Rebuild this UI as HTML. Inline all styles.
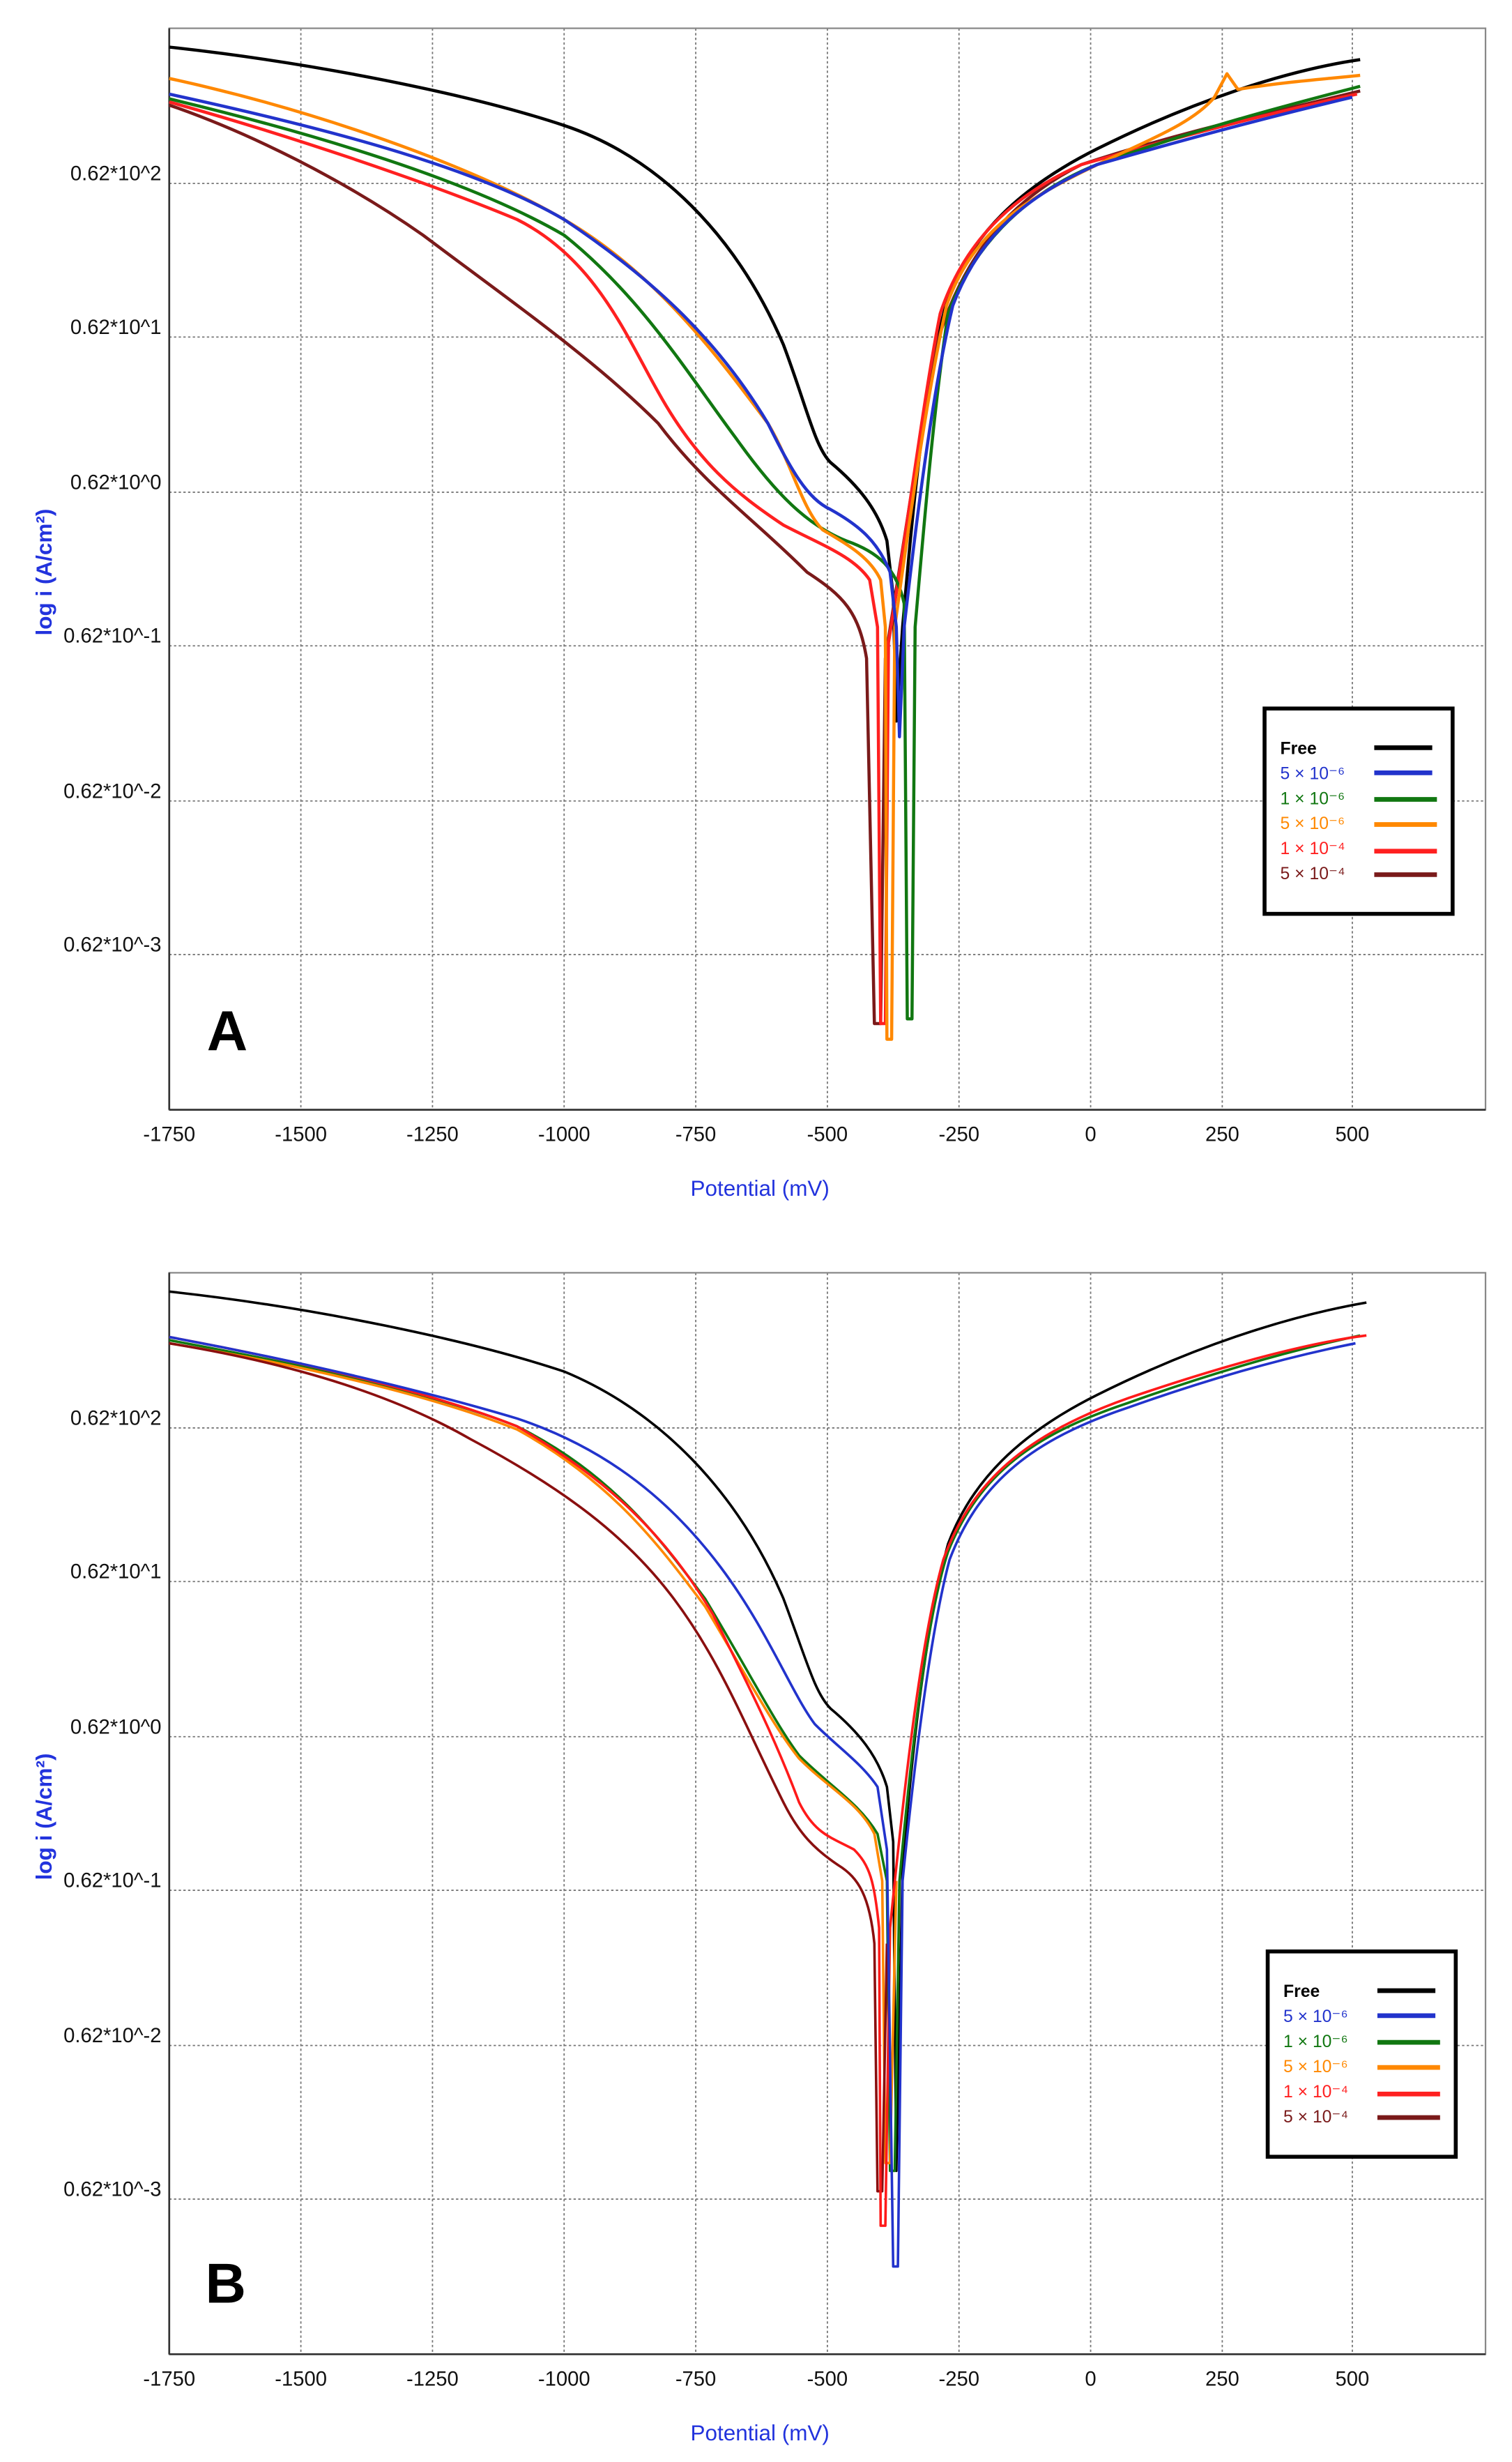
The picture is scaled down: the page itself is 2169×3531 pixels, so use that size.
<!DOCTYPE html>
<html><head><style>
html,body{margin:0;padding:0;background:#fff}
svg{display:block}
text{font-family:"Liberation Sans",sans-serif}
</style></head><body>
<svg width="2169" height="3531" viewBox="0 0 964.9 1570.7" xmlns="http://www.w3.org/2000/svg">
<rect width="964.9" height="1570.7" fill="#fff"/>
<defs>
<g id="grid">
  <g stroke="#777" stroke-width="0.8" stroke-dasharray="1.5,1.5" fill="none">
    <line x1="192" y1="0" x2="192" y2="690"/><line x1="276" y1="0" x2="276" y2="690"/>
    <line x1="360" y1="0" x2="360" y2="690"/><line x1="444" y1="0" x2="444" y2="690"/>
    <line x1="528" y1="0" x2="528" y2="690"/><line x1="612" y1="0" x2="612" y2="690"/>
    <line x1="696" y1="0" x2="696" y2="690"/><line x1="780" y1="0" x2="780" y2="690"/>
    <line x1="863" y1="0" x2="863" y2="690"/>
    <line x1="108" y1="99" x2="948" y2="99"/><line x1="108" y1="197" x2="948" y2="197"/>
    <line x1="108" y1="296" x2="948" y2="296"/><line x1="108" y1="394" x2="948" y2="394"/>
    <line x1="108" y1="493" x2="948" y2="493"/><line x1="108" y1="591" x2="948" y2="591"/>
  </g>
  <rect x="108" y="0" width="840" height="690" fill="none" stroke="#888" stroke-width="1"/>
  <line x1="108" y1="0" x2="108" y2="690" stroke="#333" stroke-width="1.2"/>
  <line x1="108" y1="690" x2="948" y2="690" stroke="#333" stroke-width="1.2"/>
  <g font-size="13" fill="#111" text-anchor="middle">
    <text x="108" y="710">-1750</text><text x="192" y="710">-1500</text><text x="276" y="710">-1250</text>
    <text x="360" y="710">-1000</text><text x="444" y="710">-750</text><text x="528" y="710">-500</text>
    <text x="612" y="710">-250</text><text x="696" y="710">0</text><text x="780" y="710">250</text><text x="863" y="710">500</text>
  </g>
  <g font-size="13" fill="#111" text-anchor="end">
    <text x="103" y="97">0.62*10^2</text><text x="103" y="195">0.62*10^1</text>
    <text x="103" y="294">0.62*10^0</text><text x="103" y="392">0.62*10^-1</text>
    <text x="103" y="491">0.62*10^-2</text><text x="103" y="589">0.62*10^-3</text>
  </g>
  <text x="485" y="745" font-size="14" fill="#2233dd" text-anchor="middle">Potential (mV)</text>
  <text transform="translate(33,347) rotate(-90)" font-size="14" fill="#2233dd" text-anchor="middle" font-weight="bold">log i (A/cm²)</text>
</g>
<g id="leg" font-family="Liberation Serif" font-size="11">
  <rect x="0" y="0" width="120" height="131" fill="#fff" stroke="#000" stroke-width="2.5"/>
  <text x="10" y="29" fill="#000" font-weight="bold">Free</text>
  <text x="10" y="45" fill="#2233cc">5 × 10⁻⁶</text>
  <text x="10" y="61" fill="#117711">1 × 10⁻⁶</text>
  <text x="10" y="77" fill="#ff8800">5 × 10⁻⁶</text>
  <text x="10" y="93" fill="#ff2020">1 × 10⁻⁴</text>
  <text x="10" y="109" fill="#7a1a1a">5 × 10⁻⁴</text>
  <g stroke-width="3"><line x1="70" x2="107" y1="25" y2="25" stroke="#000"/>
  <line x1="70" x2="107" y1="41" y2="41" stroke="#2233cc"/>
  <line x1="70" x2="110" y1="58" y2="58" stroke="#117711"/>
  <line x1="70" x2="110" y1="74" y2="74" stroke="#ff8800"/>
  <line x1="70" x2="110" y1="91" y2="91" stroke="#ff2020"/>
  <line x1="70" x2="110" y1="106" y2="106" stroke="#7a1a1a"/></g>
</g>
</defs>

<!-- Panel A -->
<g transform="translate(0,18)"><use href="#grid"/></g>
<g fill="none" stroke-width="2" stroke-linejoin="round">
<path stroke="#000" d="M108,30 C200,40 300,60 360,80 C420,100 470,150 500,220 C515,260 520,285 530,295 C548,310 560,325 566,345 L570,380 L572,460 L576,400 C582,330 590,240 605,190 C620,150 650,120 700,95 C760,65 820,45 868,38"/>
<path stroke="#7a1a1a" d="M108,67 C160,85 220,115 270,150 C330,195 380,230 420,270 C450,310 480,330 515,365 C538,380 548,390 553,420 L558,653 L562,653 L565,420 C575,360 585,290 595,230 C610,170 640,130 690,105 C760,82 820,70 868,58"/>
<path stroke="#ff2020" d="M108,65 C180,85 270,115 330,140 C380,165 400,215 420,250 C445,295 470,315 500,335 C525,348 545,355 555,370 L560,400 L562,653 L565,653 L567,410 C580,330 590,250 600,200 C615,155 645,125 690,105 C760,85 820,70 866,60"/>
<path stroke="#117711" d="M108,63 C200,85 300,115 360,150 C410,190 440,240 470,280 C495,315 515,335 540,345 C560,352 572,362 577,385 L579,650 L582,650 L584,400 C590,330 596,260 605,200 C620,160 650,125 700,105 C770,80 830,65 868,55"/>
<path stroke="#ff8800" d="M108,50 C200,70 300,105 360,140 C420,175 460,230 490,270 C505,295 512,325 525,338 C540,347 555,355 562,370 L565,400 L566,663 L569,663 L571,400 C582,320 592,250 604,195 C620,150 650,130 690,110 C730,90 760,80 775,62 L783,47 L790,57 C820,52 850,50 868,48"/>
<path stroke="#2233cc" d="M108,60 C200,80 300,105 360,140 C420,180 460,220 490,270 C505,300 515,318 530,325 C548,335 560,345 568,365 L572,400 L574,470 L577,400 C585,330 595,250 608,195 C625,150 655,125 700,105 C770,85 820,72 863,62"/>
</g>
<g transform="translate(807,452)"><use href="#leg"/></g>
<text x="132" y="670" font-family="Liberation Serif" font-size="36" font-weight="bold" fill="#000">A</text>

<!-- Panel B -->
<g transform="translate(0,812)"><use href="#grid"/></g>
<g fill="none" stroke-width="1.6" stroke-linejoin="round">
<path stroke="#000" d="M108,824 C200,834 300,855 360,875 C420,900 470,950 500,1020 C515,1060 520,1080 530,1090 C548,1105 560,1120 566,1140 L570,1175 L572,1385 L576,1190 C582,1120 590,1040 605,985 C620,945 650,915 700,890 C760,860 820,840 872,831"/>
<path stroke="#117711" d="M108,855 C200,872 280,890 330,910 C390,940 420,980 450,1020 C480,1070 495,1100 510,1120 C530,1140 548,1150 560,1170 L566,1200 L568,1385 L571,1385 L574,1200 C582,1110 592,1030 605,990 C625,940 660,915 720,895 C790,870 840,858 868,852"/>
<path stroke="#ff8800" d="M108,857 C200,872 280,892 330,912 C390,945 420,985 450,1025 C478,1072 494,1102 510,1122 C530,1142 548,1150 558,1170 L563,1200 L565,1380 L568,1380 L572,1200"/>
<path stroke="#8a0f0f" d="M108,857 C200,872 260,895 300,918 C360,950 400,980 430,1020 C460,1060 475,1100 500,1150 C510,1170 520,1180 535,1190 C548,1198 555,1210 558,1240 L560,1398 L563,1398 L566,1240"/>
<path stroke="#ff1a1a" d="M108,853 C200,870 280,890 330,910 C390,945 425,980 455,1030 C480,1080 495,1110 510,1150 C520,1170 530,1172 545,1180 C555,1190 558,1200 561,1230 L562,1420 L565,1420 L568,1230 C578,1130 588,1045 602,995 C620,945 655,915 720,892 C790,868 840,856 872,852"/>
<path stroke="#2233cc" d="M108,853 C200,870 280,890 330,905 C390,925 430,960 460,1000 C490,1040 505,1080 520,1100 C535,1115 550,1125 560,1140 L566,1180 L570,1446 L573,1446 L576,1200 C584,1120 594,1040 606,995 C625,945 660,918 720,898 C790,873 840,862 865,857"/>
</g>
<g transform="translate(809,1245)"><use href="#leg"/></g>
<text x="131" y="1469" font-family="Liberation Serif" font-size="36" font-weight="bold" fill="#000">B</text>
</svg>
</body></html>
